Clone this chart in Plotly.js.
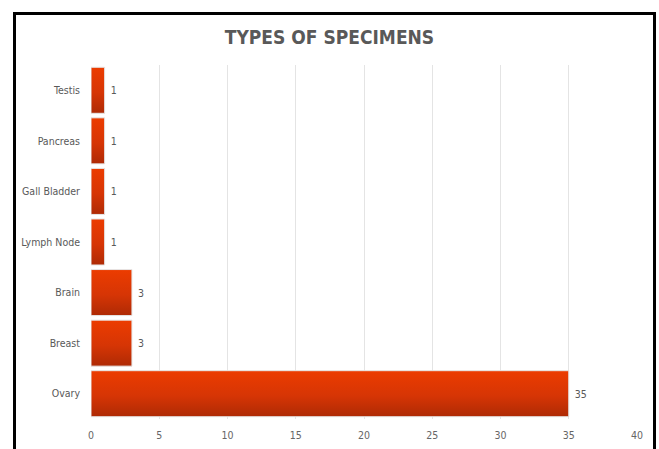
<!DOCTYPE html>
<html><head><meta charset="utf-8">
<script src="https://cdn.plot.ly/plotly-3.0.1.min.js"></script>
<style>
html,body{margin:0;padding:0;background:#fff;width:659px;height:449px;overflow:hidden;}
#chart{position:absolute;left:0;top:0;width:659px;height:449px;}
#frame{position:absolute;left:13px;top:12px;width:637px;height:460px;border:3px solid #000;pointer-events:none;}
</style></head>
<body>
<div id="chart"></div>
<div id="frame"></div>
<script>
const categories = ["Ovary","Breast","Brain","Lymph Node","Gall Bladder","Pancreas","Testis"];
const counts = [35,3,3,1,1,1,1];
const xTicks = [0,5,10,15,20,25,30,35,40];
const titleText = "TYPES OF SPECIMENS";

const fontFam = "'DejaVu Sans Condensed', 'Liberation Sans Narrow', 'Open Sans', Arial, sans-serif";
const trace = {
  type: "bar", orientation: "h",
  x: counts, y: categories,
  text: counts.map(function(v){ return " " + v; }), textposition: "outside",
  textfont: {family: fontFam, size: 10.5, color: "#595959"},
  marker: {color: "#D33506", line: {color: "#e6e6e6", width: 1}},
  cliponaxis: false, hoverinfo: "none"
};
const layout = {
  width: 659, height: 449,
  margin: {l: 91, r: 22, t: 65, b: 30},
  paper_bgcolor: "rgba(0,0,0,0)", plot_bgcolor: "rgba(0,0,0,0)",
  bargap: 0.09,
  showlegend: false,
  title: {text: titleText, x: 0.5, xanchor: "center", y: 0.917, yanchor: "middle",
          font: {family: fontFam, size: 19, color: "#595959", weight: "bold"}},
  xaxis: {range: [0, 40], tickvals: xTicks, ticktext: xTicks.map(String),
          showgrid: true, gridcolor: "#E4E4E4", gridwidth: 1, zeroline: false,
          showline: false, ticks: "", ticklabelstandoff: 8,
          tickfont: {family: fontFam, size: 10.5, color: "#666666"}, fixedrange: true},
  yaxis: {type: "category", showgrid: false, zeroline: false, showline: false, ticks: "",
          ticklabelstandoff: 10,
          tickfont: {family: fontFam, size: 10.5, color: "#595959"}, fixedrange: true}
};
Plotly.newPlot("chart", [trace], layout, {displayModeBar: false, staticPlot: true}).then(function(gd){
  const svg = gd.querySelector("svg.main-svg");
  const ns = "http://www.w3.org/2000/svg";
  let defs = svg.querySelector("defs");
  if (!defs) { defs = document.createElementNS(ns, "defs"); svg.insertBefore(defs, svg.firstChild); }
  const grad = document.createElementNS(ns, "linearGradient");
  grad.setAttribute("id", "barGrad");
  grad.setAttribute("x1", "0"); grad.setAttribute("y1", "0");
  grad.setAttribute("x2", "0"); grad.setAttribute("y2", "1");
  [["0%","#EC3C00"],["55%","#D63505"],["100%","#AE2A05"]].forEach(function(s){
    const st = document.createElementNS(ns, "stop");
    st.setAttribute("offset", s[0]); st.setAttribute("stop-color", s[1]);
    grad.appendChild(st);
  });
  defs.appendChild(grad);
  gd.querySelectorAll(".bars .point path").forEach(function(p){
    p.style.fill = "url(#barGrad)";
  });
});
</script>
</body></html>
